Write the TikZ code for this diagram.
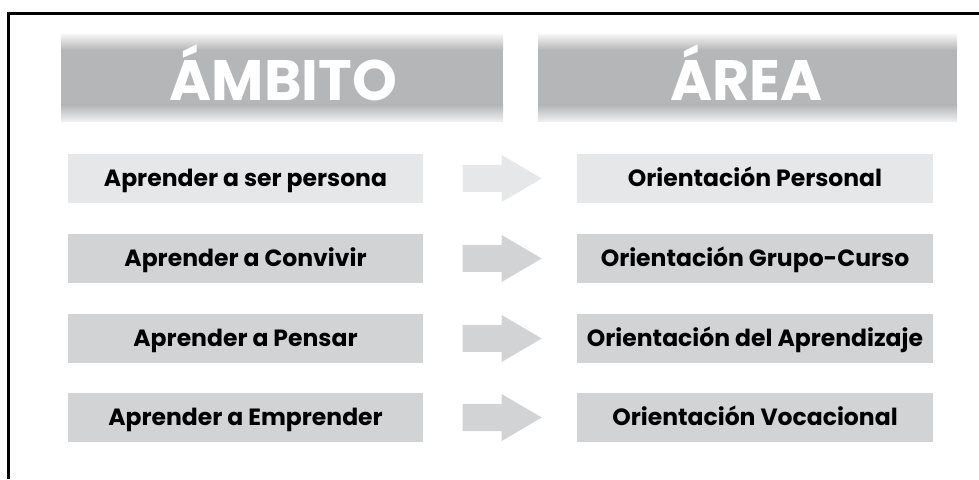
\documentclass[tikz,border=0pt]{standalone}
\usepackage{fontspec}
\setmainfont{Poppins}
\usetikzlibrary{calc}
\begin{document}
\begin{tikzpicture}[x=1pt,y=1pt,
  hdrtext/.style={text=white,font=\fontsize{57}{57}\selectfont\bfseries,inner sep=0pt,text height=40pt,text depth=0pt},
  rowtext/.style={text=black,font=\fontsize{23.5}{23.5}\selectfont\bfseries,text height=16.5pt,text depth=0pt},
  lbox/.style={rectangle,inner sep=0pt,minimum width=355pt,minimum height=49pt,rowtext},
  rbox/.style={rectangle,inner sep=0pt,minimum width=356pt,minimum height=49pt,rowtext},
  blockarrow/.pic={\fill (0,-13.5) -- (39,-13.5) -- (39,-23.5) -- (79,0) -- (39,23.5) -- (39,13.5) -- (0,13.5) -- cycle;}
]
\definecolor{rowlight}{RGB}{230,231,232}
\definecolor{rowdark}{RGB}{209,211,212}
\definecolor{hgrey}{RGB}{181,182,184}
\definecolor{hlight}{RGB}{242,242,242}
\useasboundingbox (0,0) rectangle (979,479);
% frame
\draw[line width=2.5pt,black] (979,465.5) -- (8.7,465.5) -- (8.7,0);
% headers
\foreach \xa/\xb in {61/503,538/957}{
  \fill[hgrey] (\xa,374) rectangle (\xb,429);
  \shade[top color=hlight,bottom color=hgrey] (\xa,429) rectangle (\xb,444);
  \shade[top color=hgrey,bottom color=hlight] (\xa,357) rectangle (\xb,374);
}
\node[hdrtext] (h1) at (283.5,398.5) {ÁMBITO};
\node[hdrtext] (h2) at (746.5,398.5) {ÁREA};
% rows
\node[lbox,fill=rowlight] (l1) at (245.5,300.5) {Aprender a ser persona};
\node[lbox,fill=rowdark] (l2) at (245.5,220.5) {Aprender a Convivir};
\node[lbox,fill=rowdark] (l3) at (245.5,140.5) {Aprender a Pensar};
\node[lbox,fill=rowdark] (l4) at (245.5,61.5) {Aprender a Emprender};
\node[rbox,fill=rowlight] (r1) at (755,300.5) {Orientación Personal};
\node[rbox,fill=rowdark] (r2) at (755,220.5) {Orientación Grupo-Curso};
\node[rbox,fill=rowdark] (r3) at (755,140.5) {Orientación del Aprendizaje};
\node[rbox,fill=rowdark] (r4) at (755,61.5) {Orientación Vocacional};
% arrows
\pic[rowlight] at ($(l1.east)+(39.5,0)$) {blockarrow};
\pic[rowdark] at ($(l2.east)+(39.5,0)$) {blockarrow};
\pic[rowdark] at ($(l3.east)+(39.5,0)$) {blockarrow};
\pic[rowdark] at ($(l4.east)+(39.5,0)$) {blockarrow};
\end{tikzpicture}
\end{document}
